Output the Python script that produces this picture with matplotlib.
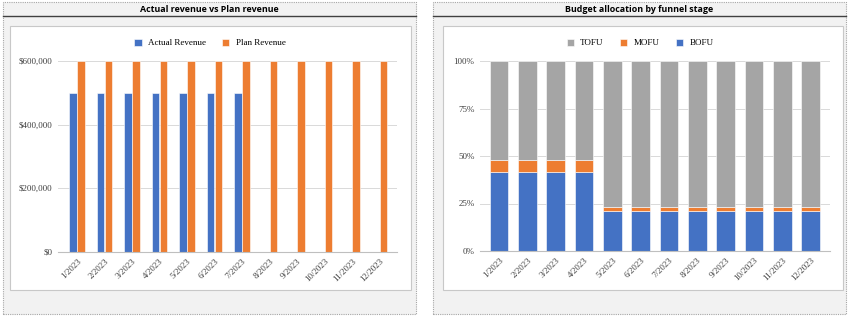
import matplotlib.pyplot as plt
import numpy as np
from matplotlib.patches import Rectangle
from matplotlib.lines import Line2D
from matplotlib.ticker import FuncFormatter

months = ["1/2023", "2/2023", "3/2023", "4/2023", "5/2023", "6/2023",
          "7/2023", "8/2023", "9/2023", "10/2023", "11/2023", "12/2023"]
actual_revenue = [500000, 500000, 500000, 500000, 500000, 500000, 500000,
                  0, 0, 0, 0, 0]
plan_revenue = [600000] * 12

bofu = [41.7, 41.7, 41.7, 41.7, 20.8, 20.8, 20.8, 20.8, 20.8, 20.8, 20.8, 20.8]
mofu = [6.3, 6.3, 6.3, 6.3, 2.5, 2.5, 2.5, 2.5, 2.5, 2.5, 2.5, 2.5]
tofu = [52.0, 52.0, 52.0, 52.0, 76.7, 76.7, 76.7, 76.7, 76.7, 76.7, 76.7, 76.7]

BLUE = "#4472C4"
ORANGE = "#ED7D31"
GRAY = "#A5A5A5"
W, H = 850, 322

fig = plt.figure(figsize=(8.5, 3.22), dpi=100)
fig.patch.set_facecolor("white")


def box(x0, y0, x1, y1, **kw):
    # pixel coords (top-left origin) -> figure fraction
    r = Rectangle((x0 / W, 1 - y1 / H), (x1 - x0) / W, (y1 - y0) / H,
                  transform=fig.transFigure, zorder=-5, **kw)
    fig.patches.append(r)


def hline(x0, x1, y, **kw):
    fig.lines.append(Line2D([x0 / W, x1 / W], [1 - y / H, 1 - y / H],
                            transform=fig.transFigure, zorder=-4, **kw))


def axes_px(x0, y0, x1, y1):
    return fig.add_axes([x0 / W, 1 - y1 / H, (x1 - x0) / W, (y1 - y0) / H])


serif = "Liberation Serif"

for (ox0, ox1, ix0, ix1, title) in [(3, 416, 10, 411, "Actual revenue vs Plan revenue"),
                                    (433, 846, 443, 843, "Budget allocation by funnel stage")]:
    box(ox0, 2, ox1, 314, facecolor="#f2f2f2", edgecolor="#a6a6a6",
        linewidth=0.8, linestyle=(0, (1, 1)))
    hline(ox0, ox1, 16, color="#404040", linewidth=1.0)
    box(ix0, 26, ix1, 290, facecolor="white", edgecolor="#c8c8c8", linewidth=0.8)
    fig.text((ox0 + ox1) / 2 / W, 1 - 9 / H, title, ha="center", va="center",
             fontsize=6.4, fontweight="bold", family="Open Sans")


def style(ax):
    for s in ["top", "right", "left"]:
        ax.spines[s].set_visible(False)
    ax.spines["bottom"].set_color("#bfbfbf")
    ax.grid(axis="y", color="#d9d9d9", linewidth=0.7)
    ax.set_axisbelow(True)
    ax.tick_params(length=0, labelsize=6.5, colors="#404040")
    ax.tick_params(axis="x", pad=4)
    ax.tick_params(axis="y", pad=4)
    for lab in ax.get_xticklabels() + ax.get_yticklabels():
        lab.set_family(serif)
    ax.patch.set_alpha(0)


x = np.arange(len(months))

# left chart
ax1 = axes_px(58, 61, 397, 251.6)
bw = 0.28
ax1.bar(x - 0.145, actual_revenue, bw, color=BLUE, edgecolor="white",
        linewidth=0.4, label="Actual Revenue")
ax1.bar(x + 0.145, plan_revenue, bw, color=ORANGE, edgecolor="white",
        linewidth=0.4, label="Plan Revenue")
ax1.set_ylim(0, 600000)
ax1.set_yticks([0, 200000, 400000, 600000])
ax1.yaxis.set_major_formatter(FuncFormatter(lambda v, p: "${:,.0f}".format(v)))
ax1.set_xlim(-0.69, 11.64)
ax1.set_xticks(x)
ax1.set_xticklabels(months, rotation=45, ha="right", rotation_mode="anchor")
style(ax1)
ax1.legend(loc="center", bbox_to_anchor=(210 / W, 1 - 43 / H),
           bbox_transform=fig.transFigure, ncol=2, frameon=False,
           prop={"family": serif, "size": 6.5}, handlelength=0.8,
           handleheight=0.8, columnspacing=1.8, handletextpad=0.7)

# right chart
ax2 = axes_px(480, 61, 830, 251)
bw2 = 0.66
ax2.bar(x, bofu, bw2, color=BLUE, edgecolor="white", linewidth=0.4, label="BOFU")
ax2.bar(x, mofu, bw2, bottom=bofu, color=ORANGE, edgecolor="white",
        linewidth=0.4, label="MOFU")
ax2.bar(x, tofu, bw2, bottom=np.add(bofu, mofu), color=GRAY, edgecolor="white",
        linewidth=0.4, label="TOFU")
ax2.set_ylim(0, 100)
ax2.set_yticks([0, 25, 50, 75, 100])
ax2.yaxis.set_major_formatter(FuncFormatter(lambda v, p: "{:.0f}%".format(v)))
ax2.set_xlim(-0.67, 11.68)
ax2.set_xticks(x)
ax2.set_xticklabels(months, rotation=45, ha="right", rotation_mode="anchor")
style(ax2)
h, l = ax2.get_legend_handles_labels()
ax2.legend(h[::-1], l[::-1], loc="center", bbox_to_anchor=(640 / W, 1 - 43 / H),
           bbox_transform=fig.transFigure, ncol=3, frameon=False,
           prop={"family": serif, "size": 6.5}, handlelength=0.8,
           handleheight=0.8, columnspacing=1.8, handletextpad=0.7)

fig.savefig("out.png", dpi=100)
